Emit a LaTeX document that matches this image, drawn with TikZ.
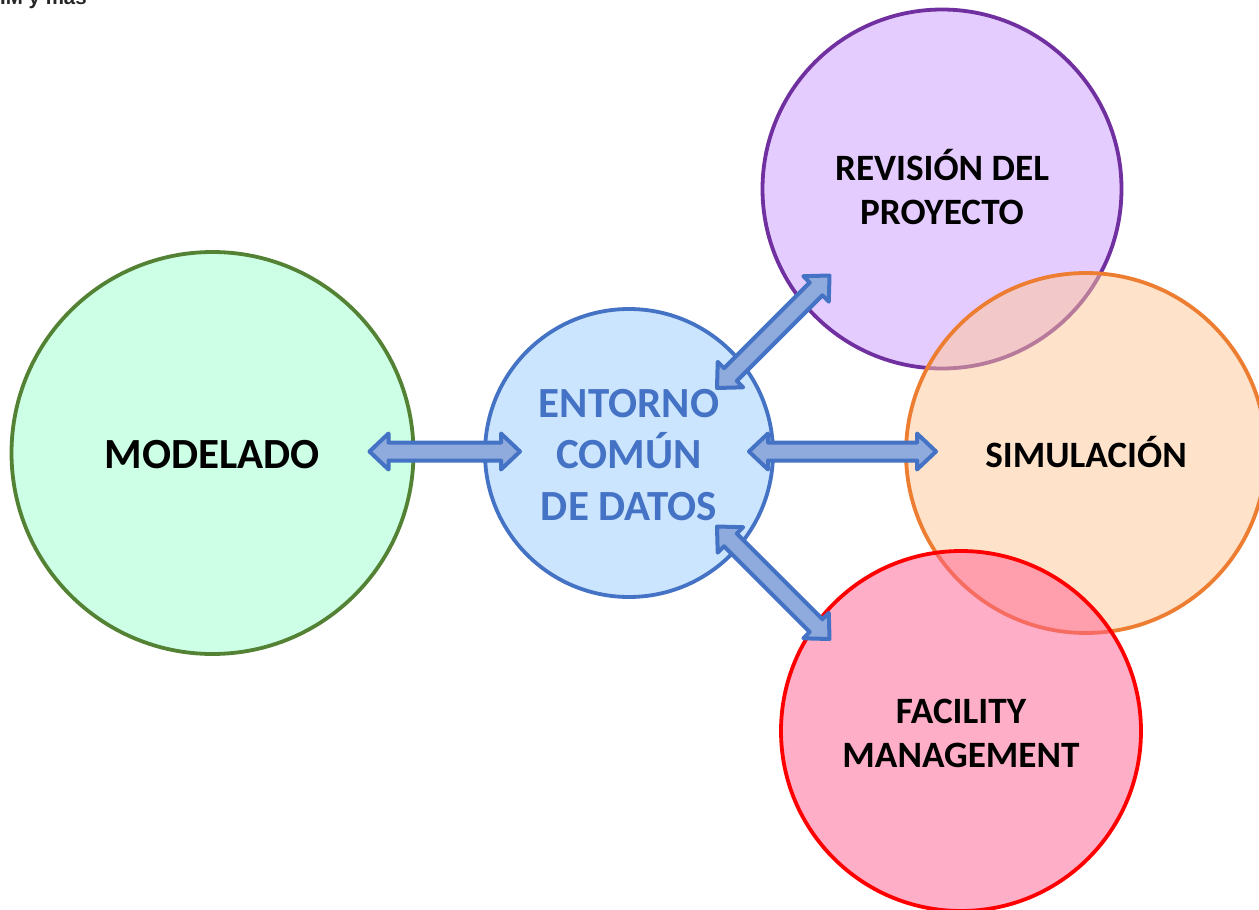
\documentclass[tikz,border=0pt]{standalone}
\usepackage{fontspec}
\setmainfont{Carlito}
\newfontfamily\arialfont{Liberation Sans}
\usetikzlibrary{calc}
\definecolor{arrowfill}{HTML}{8FAADC}
\definecolor{arrowline}{HTML}{4472C4}
\definecolor{greenline}{HTML}{548235}
\definecolor{purpleline}{HTML}{7030A0}
\definecolor{orangeline}{HTML}{ED7D31}
\definecolor{greenfill}{HTML}{CCFFE5}
\definecolor{bluefill}{HTML}{CCE5FF}
\definecolor{purplefill}{HTML}{E5CCFF}
\definecolor{orangefill}{HTML}{FFC595}
\definecolor{redfill}{HTML}{FF5D91}
\tikzset{
  bubble/.style={circle,draw,line width=3.8pt,inner sep=0pt},
  seethrough/.style={fill opacity=.5},
  bubbletext/.style={inner sep=0pt,align=center,text=black,font=\bfseries\fontsize{37.2}{44}\selectfont},
  blockarrow/.style={draw=arrowline,fill=arrowfill,line width=4pt,line join=round}
}
\newcommand{\dblarrow}[2]{%
  \draw[blockarrow]
    (#1)
    -- ($(#1)!19pt!(#2)!18pt!90:(#2)$)
    -- ($(#1)!19pt!(#2)!9pt!90:(#2)$)
    -- ($(#2)!19pt!(#1)!9pt!-90:(#1)$)
    -- ($(#2)!19pt!(#1)!18pt!-90:(#1)$)
    -- (#2)
    -- ($(#2)!19pt!(#1)!18pt!90:(#1)$)
    -- ($(#2)!19pt!(#1)!9pt!90:(#1)$)
    -- ($(#1)!19pt!(#2)!9pt!-90:(#2)$)
    -- ($(#1)!19pt!(#2)!18pt!-90:(#2)$)
    -- cycle;}
\begin{document}
\begin{tikzpicture}[x=1pt,y=-1pt]
\useasboundingbox (0,0) rectangle (1259,910);
\begin{scope}
\clip (0,0) rectangle (1259,910);
\node[anchor=base west,inner sep=0pt,font=\arialfont\bfseries\fontsize{20.5}{24}\selectfont,text=black!85] (header) at (0,5) {IM y más};
\node[bubble,draw=greenline,fill=greenfill,minimum size=402pt] (model) at (212.5,453) {};
\node[bubble,draw=arrowline,fill=bluefill,minimum size=288pt] (cde) at (629,453) {};
\node[bubble,draw=purpleline,fill=purplefill,minimum size=359pt] (rev) at (942,189) {};
\node[bubble,seethrough,draw=orangeline,fill=orangefill,minimum size=360pt] (sim) at (1086,453) {};
\node[bubble,seethrough,draw=red,fill=redfill,minimum size=360pt] (fac) at (961,731) {};
\end{scope}
\node[bubbletext,font=\bfseries\fontsize{43}{51.5}\selectfont] (modelt) at (212.5,455) {MODELADO};
\node[bubbletext,text=arrowline,font=\bfseries\fontsize{43}{51.5}\selectfont] (cdet) at (629,455) {ENTORNO\\COMÚN\\DE DATOS};
\node[bubbletext] (revt) at (942,187.5) {REVISIÓN DEL\\PROYECTO};
\node[bubbletext] (simt) at (1086,452) {SIMULACIÓN};
\node[bubbletext] (fact) at (961,733) {FACILITY\\MANAGEMENT};
\coordinate (a1) at (369.5,451.5);
\coordinate (a2) at (520,451.5);
\coordinate (b1) at (749,451.5);
\coordinate (b2) at (936,451.5);
\coordinate (c1) at (717,388);
\coordinate (c2) at (829.5,275.5);
\coordinate (d1) at (717,526.5);
\coordinate (d2) at (829.5,639);
\dblarrow{a1}{a2}
\dblarrow{b1}{b2}
\dblarrow{c1}{c2}
\dblarrow{d1}{d2}
\end{tikzpicture}
\end{document}
